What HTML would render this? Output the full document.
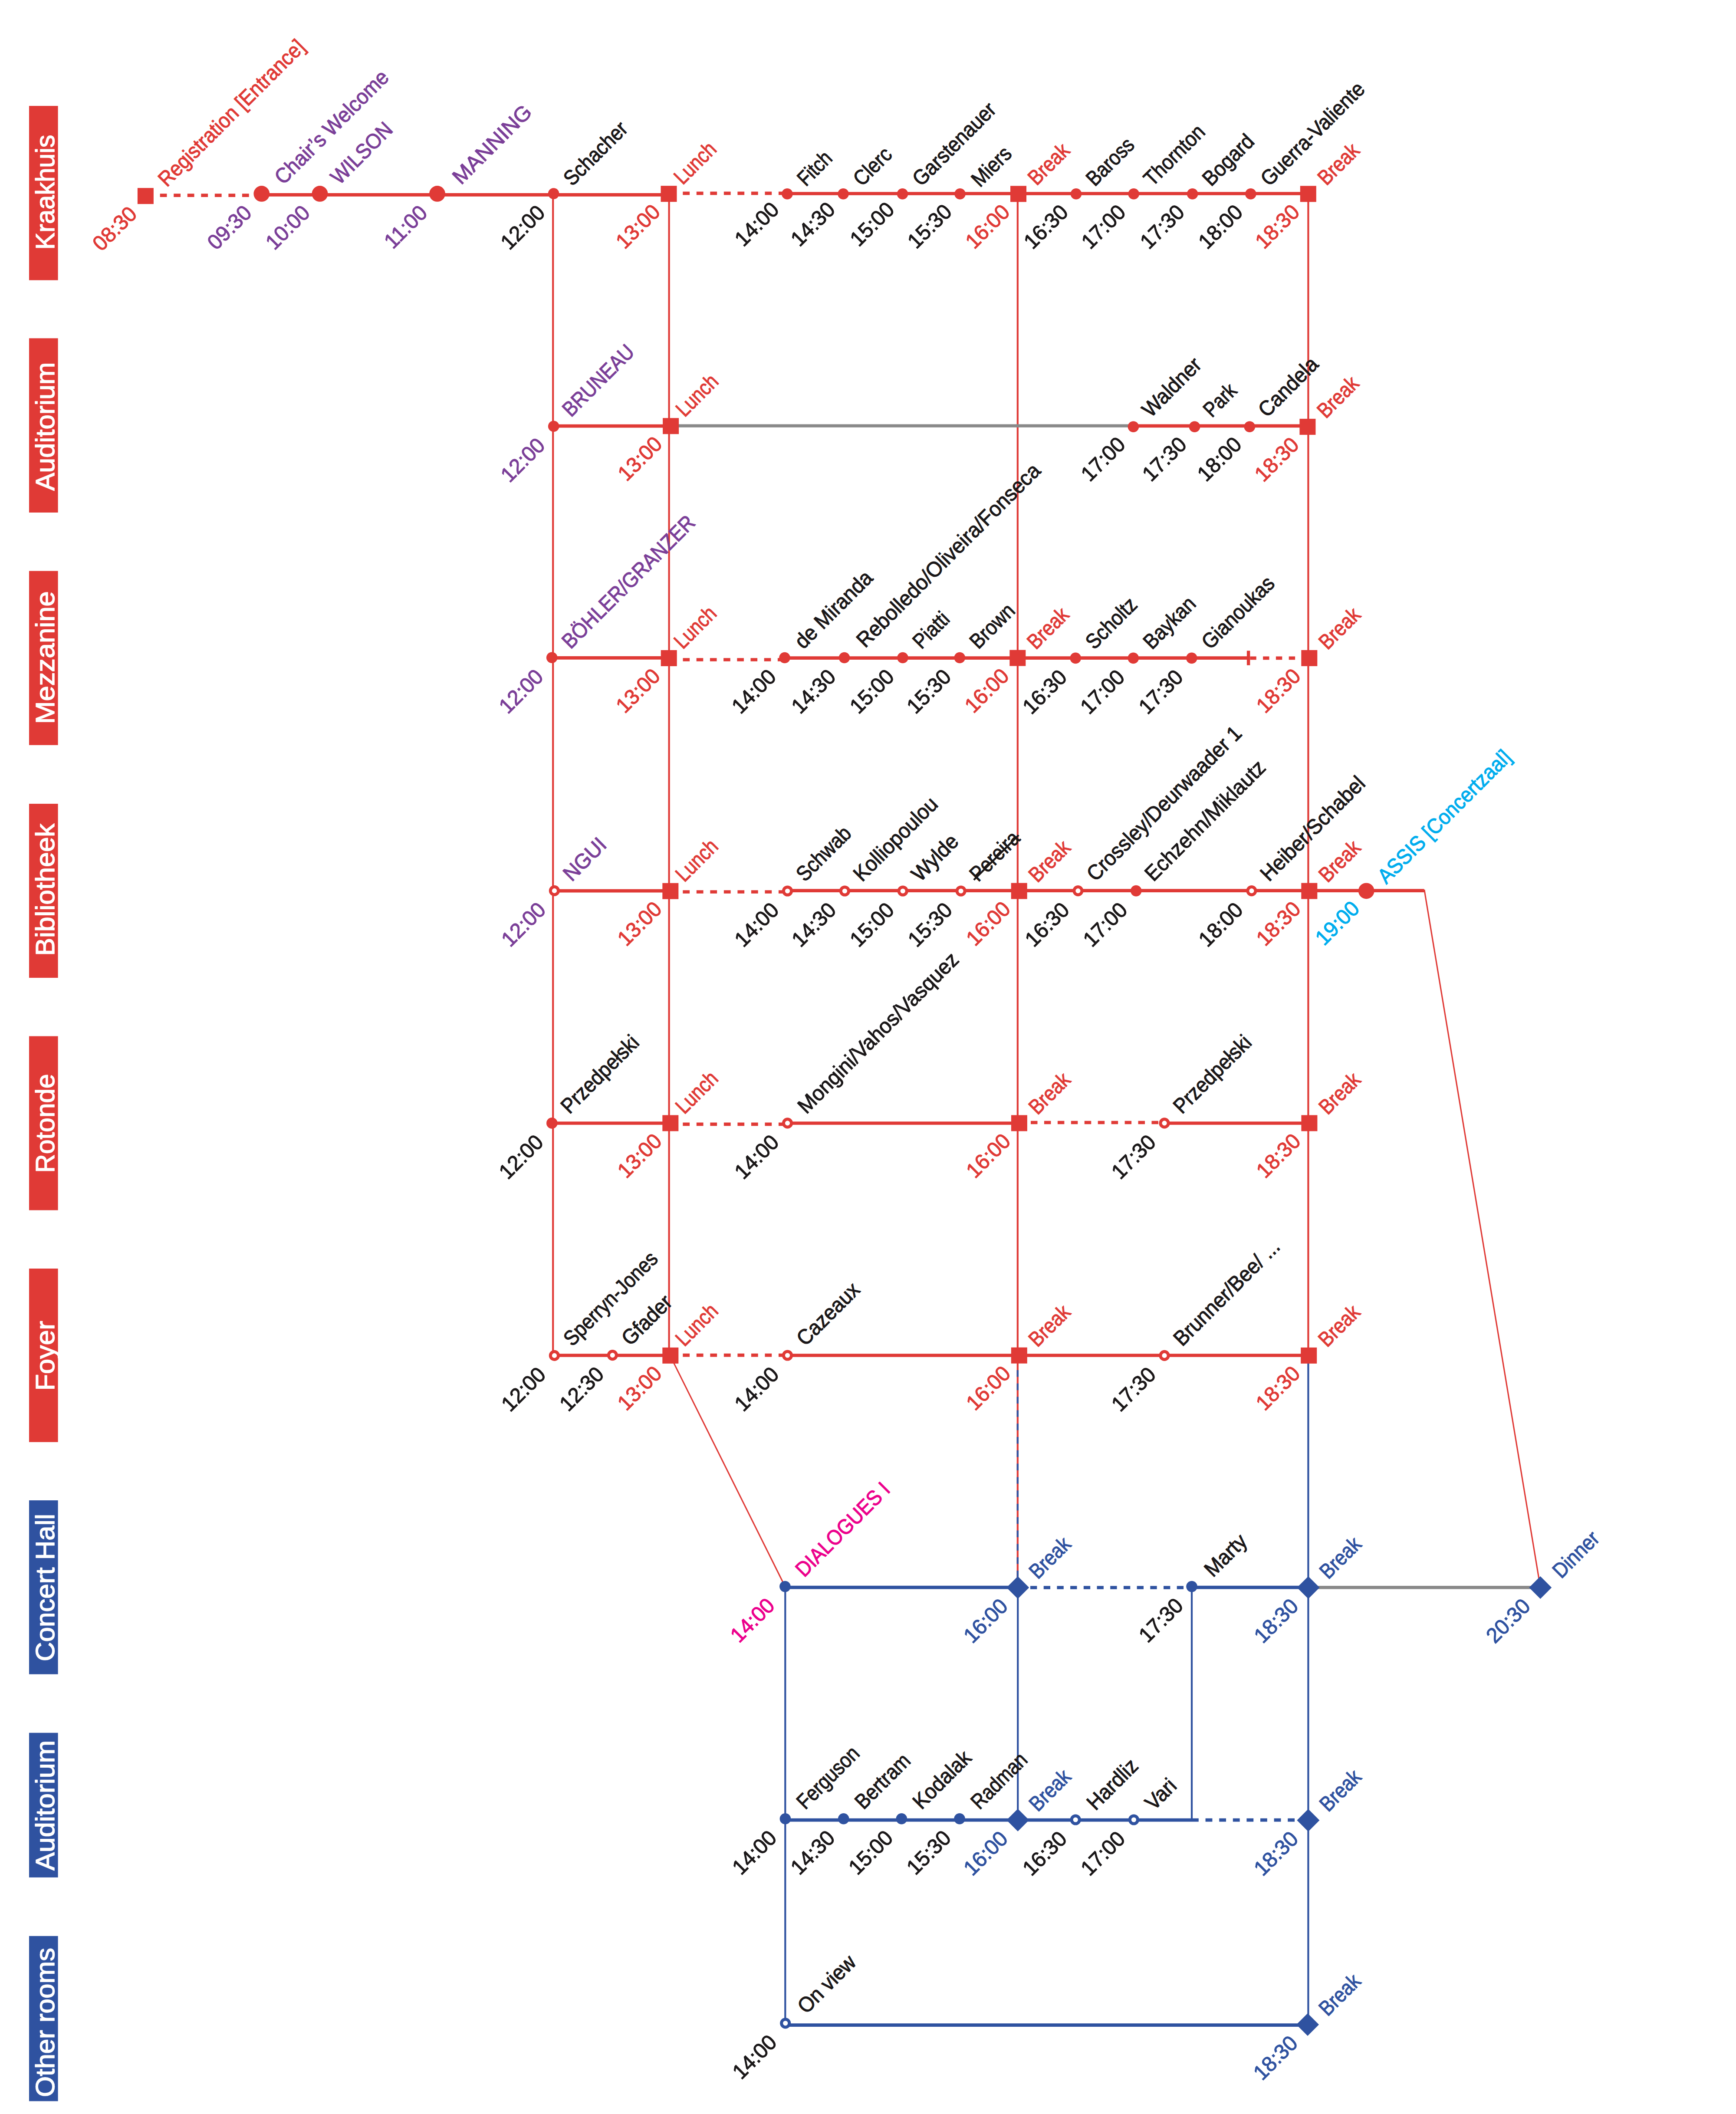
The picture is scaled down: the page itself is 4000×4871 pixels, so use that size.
<!DOCTYPE html>
<html lang="en">
<head>
<meta charset="utf-8">
<title>Conference schedule map</title>
<style>
html,body{margin:0;padding:0;background:#fff;}
body{width:4000px;height:4871px;overflow:hidden;}
svg{display:block;}
text{font-family:"Liberation Sans",sans-serif;font-size:49px;stroke-width:1.2px;stroke-linejoin:round;}
text.room{font-size:62px;stroke-width:1.5px;}
</style>
</head>
<body>
<svg width="4000" height="4871" viewBox="0 0 4000 4871">
<rect width="4000" height="4871" fill="#fff"/>
<rect x="67" y="244.0" width="66.6" height="401.6" fill="#E03A36"/>
<text class="room" transform="translate(125.3 443.0) rotate(-90)" text-anchor="middle" fill="#fff" stroke="#fff" textLength="265" lengthAdjust="spacingAndGlyphs">Kraakhuis</text>
<rect x="67" y="779.4" width="66.6" height="401.6" fill="#E03A36"/>
<text class="room" transform="translate(125.3 982.7) rotate(-90)" text-anchor="middle" fill="#fff" stroke="#fff" textLength="296" lengthAdjust="spacingAndGlyphs">Auditorium</text>
<rect x="67" y="1315.6" width="66.6" height="401.2" fill="#E03A36"/>
<text class="room" transform="translate(125.3 1515.2) rotate(-90)" text-anchor="middle" fill="#fff" stroke="#fff" textLength="306" lengthAdjust="spacingAndGlyphs">Mezzanine</text>
<rect x="67" y="1852.0" width="66.6" height="401.0" fill="#E03A36"/>
<text class="room" transform="translate(125.3 2050.0) rotate(-90)" text-anchor="middle" fill="#fff" stroke="#fff" textLength="305" lengthAdjust="spacingAndGlyphs">Bibliotheek</text>
<rect x="67" y="2387.5" width="66.6" height="401.0" fill="#E03A36"/>
<text class="room" transform="translate(125.3 2588.5) rotate(-90)" text-anchor="middle" fill="#fff" stroke="#fff" textLength="228" lengthAdjust="spacingAndGlyphs">Rotonde</text>
<rect x="67" y="2923.0" width="66.6" height="399.8" fill="#E03A36"/>
<text class="room" transform="translate(125.3 3123.9) rotate(-90)" text-anchor="middle" fill="#fff" stroke="#fff" textLength="161" lengthAdjust="spacingAndGlyphs">Foyer</text>
<rect x="67" y="3457.0" width="66.6" height="400.7" fill="#2F52A0"/>
<text class="room" transform="translate(125.3 3657.9) rotate(-90)" text-anchor="middle" fill="#fff" stroke="#fff" textLength="340" lengthAdjust="spacingAndGlyphs">Concert Hall</text>
<rect x="67" y="3992.7" width="66.6" height="333.2" fill="#2F52A0"/>
<text class="room" transform="translate(125.3 4160.0) rotate(-90)" text-anchor="middle" fill="#fff" stroke="#fff" textLength="300" lengthAdjust="spacingAndGlyphs">Auditorium</text>
<rect x="67" y="4460.9" width="66.6" height="380.5" fill="#2F52A0"/>
<text class="room" transform="translate(125.3 4660.1) rotate(-90)" text-anchor="middle" fill="#fff" stroke="#fff" textLength="344" lengthAdjust="spacingAndGlyphs">Other rooms</text>
<line x1="1274.2" y1="446.0" x2="1274.2" y2="3123.4" stroke="#E03A36" stroke-width="4.2"/>
<line x1="1541.6" y1="446.0" x2="1541.6" y2="3123.4" stroke="#E03A36" stroke-width="4.2"/>
<line x1="2344.8" y1="446.0" x2="2344.8" y2="3640.0" stroke="#E03A36" stroke-width="4.2"/>
<line x1="2344.8" y1="3141.6" x2="2344.8" y2="3640" stroke="#2F52A0" stroke-width="4.2" stroke-dasharray="15.4 15.4" stroke-dashoffset="-15.4"/>
<line x1="2345.2" y1="3658.0" x2="2345.2" y2="4193.7" stroke="#2F52A0" stroke-width="4.2"/>
<line x1="3014.4" y1="446.0" x2="3014.4" y2="3123.4" stroke="#E03A36" stroke-width="4.2"/>
<line x1="3014.4" y1="3123.4" x2="3014.4" y2="4665.0" stroke="#2F52A0" stroke-width="4.2"/>
<line x1="1809.3" y1="3655.6" x2="1809.3" y2="4662.0" stroke="#2F52A0" stroke-width="4.2"/>
<line x1="2746.0" y1="3655.6" x2="2746.0" y2="4195.5" stroke="#2F52A0" stroke-width="4.2"/>
<line x1="1544.0" y1="3123.4" x2="1808.6" y2="3655.0" stroke="#E03A36" stroke-width="3.1"/>
<line x1="3281.8" y1="2050.0" x2="3546.0" y2="3638.0" stroke="#E03A36" stroke-width="3.1"/>
<line x1="368.7" y1="450.2" x2="573.7" y2="450.2" stroke="#E03A36" stroke-width="7.7" stroke-dasharray="15.77 15.77"/>
<line x1="602.8" y1="448.8" x2="1541.0" y2="448.8" stroke="#E03A36" stroke-width="7.7"/>
<line x1="1573.3" y1="445.3" x2="1809.7" y2="445.3" stroke="#E03A36" stroke-width="7.7" stroke-dasharray="15.76 15.76"/>
<line x1="1813.9" y1="446.0" x2="3014.3" y2="446.0" stroke="#E03A36" stroke-width="7.7"/>
<rect x="316.9" y="433.1" width="37" height="37" fill="#E03A36"/>
<text transform="translate(384.4 432.6) rotate(-45) scale(0.912 1)" fill="#E03A36" stroke="#E03A36">Registration [Entrance]</text>
<text transform="translate(318.4 496.1) rotate(-45) scale(0.978 1)" text-anchor="end" fill="#E03A36" stroke="#E03A36">08:30</text>
<circle cx="602.8" cy="446.4" r="18.4" fill="#E03A36"/>
<text transform="translate(652.8 427.4) rotate(-45) scale(0.940 1)" fill="#7B3F98" stroke="#7B3F98">Chair’s Welcome</text>
<text transform="translate(582.8 493.4) rotate(-45) scale(0.978 1)" text-anchor="end" fill="#7B3F98" stroke="#7B3F98">09:30</text>
<circle cx="737.0" cy="446.4" r="18.4" fill="#E03A36"/>
<text transform="translate(782.0 427.4) rotate(-45) scale(0.921 1)" fill="#7B3F98" stroke="#7B3F98">WILSON</text>
<text transform="translate(717.0 493.4) rotate(-45) scale(0.978 1)" text-anchor="end" fill="#7B3F98" stroke="#7B3F98">10:00</text>
<circle cx="1007.5" cy="446.4" r="18.4" fill="#E03A36"/>
<text transform="translate(1062.5 427.4) rotate(-45) scale(1.015 1)" fill="#7B3F98" stroke="#7B3F98">MANNING</text>
<text transform="translate(987.5 493.4) rotate(-45) scale(0.978 1)" text-anchor="end" fill="#7B3F98" stroke="#7B3F98">11:00</text>
<circle cx="1275.6" cy="446.1" r="12.8" fill="#E03A36"/>
<text transform="translate(1318.6 430.6) rotate(-45) scale(0.893 1)" fill="#1A1718" stroke="#1A1718">Schacher</text>
<text transform="translate(1258.6 493.1) rotate(-45) scale(0.978 1)" text-anchor="end" fill="#1A1718" stroke="#1A1718">12:00</text>
<rect x="1522.5" y="428.1" width="37" height="37" fill="#E03A36"/>
<text transform="translate(1573.0 427.6) rotate(-45) scale(0.855 1)" fill="#E03A36" stroke="#E03A36">Lunch</text>
<text transform="translate(1524.0 491.1) rotate(-45) scale(0.978 1)" text-anchor="end" fill="#E03A36" stroke="#E03A36">13:00</text>
<circle cx="1813.9" cy="446.8" r="12.8" fill="#E03A36"/>
<text transform="translate(1856.9 431.3) rotate(-45) scale(0.846 1)" fill="#1A1718" stroke="#1A1718">Fitch</text>
<text transform="translate(1797.9 485.8) rotate(-45) scale(0.978 1)" text-anchor="end" fill="#1A1718" stroke="#1A1718">14:00</text>
<circle cx="1943.0" cy="446.8" r="12.8" fill="#E03A36"/>
<text transform="translate(1986.0 431.3) rotate(-45) scale(0.893 1)" fill="#1A1718" stroke="#1A1718">Clerc</text>
<text transform="translate(1927.0 485.8) rotate(-45) scale(0.978 1)" text-anchor="end" fill="#1A1718" stroke="#1A1718">14:30</text>
<circle cx="2079.5" cy="446.8" r="12.8" fill="#E03A36"/>
<text transform="translate(2122.5 431.3) rotate(-45) scale(0.912 1)" fill="#1A1718" stroke="#1A1718">Garstenauer</text>
<text transform="translate(2063.5 485.8) rotate(-45) scale(0.978 1)" text-anchor="end" fill="#1A1718" stroke="#1A1718">15:00</text>
<circle cx="2212.0" cy="446.8" r="12.8" fill="#E03A36"/>
<text transform="translate(2258.0 433.3) rotate(-45) scale(0.898 1)" fill="#1A1718" stroke="#1A1718">Miers</text>
<text transform="translate(2196.0 490.8) rotate(-45) scale(0.978 1)" text-anchor="end" fill="#1A1718" stroke="#1A1718">15:30</text>
<rect x="2328.0" y="428.3" width="37" height="37" fill="#E03A36"/>
<text transform="translate(2388.5 429.3) rotate(-45) scale(0.874 1)" fill="#E03A36" stroke="#E03A36">Break</text>
<text transform="translate(2329.5 491.3) rotate(-45) scale(0.978 1)" text-anchor="end" fill="#E03A36" stroke="#E03A36">16:00</text>
<circle cx="2479.5" cy="446.8" r="12.8" fill="#E03A36"/>
<text transform="translate(2522.5 431.3) rotate(-45) scale(0.874 1)" fill="#1A1718" stroke="#1A1718">Baross</text>
<text transform="translate(2464.0 491.8) rotate(-45) scale(0.978 1)" text-anchor="end" fill="#1A1718" stroke="#1A1718">16:30</text>
<circle cx="2612.2" cy="446.8" r="12.8" fill="#E03A36"/>
<text transform="translate(2655.2 431.3) rotate(-45) scale(0.896 1)" fill="#1A1718" stroke="#1A1718">Thornton</text>
<text transform="translate(2596.7 491.8) rotate(-45) scale(0.978 1)" text-anchor="end" fill="#1A1718" stroke="#1A1718">17:00</text>
<circle cx="2747.6" cy="446.8" r="12.8" fill="#E03A36"/>
<text transform="translate(2790.6 431.3) rotate(-45) scale(0.916 1)" fill="#1A1718" stroke="#1A1718">Bogard</text>
<text transform="translate(2732.1 491.8) rotate(-45) scale(0.978 1)" text-anchor="end" fill="#1A1718" stroke="#1A1718">17:30</text>
<circle cx="2881.8" cy="446.8" r="12.8" fill="#E03A36"/>
<text transform="translate(2924.8 431.3) rotate(-45) scale(0.921 1)" fill="#1A1718" stroke="#1A1718">Guerra-Valiente</text>
<text transform="translate(2866.3 491.8) rotate(-45) scale(0.978 1)" text-anchor="end" fill="#1A1718" stroke="#1A1718">18:00</text>
<rect x="2995.8" y="428.3" width="37" height="37" fill="#E03A36"/>
<text transform="translate(3056.3 429.3) rotate(-45) scale(0.874 1)" fill="#E03A36" stroke="#E03A36">Break</text>
<text transform="translate(2997.3 491.3) rotate(-45) scale(0.978 1)" text-anchor="end" fill="#E03A36" stroke="#E03A36">18:30</text>
<line x1="1275.7" y1="981.6" x2="1545.0" y2="981.6" stroke="#E03A36" stroke-width="7.7"/>
<line x1="1560.0" y1="981.2" x2="2611.4" y2="981.2" stroke="#898989" stroke-width="7.2"/>
<line x1="2611.4" y1="981.4" x2="3013.0" y2="981.4" stroke="#E03A36" stroke-width="7.7"/>
<circle cx="1275.7" cy="982.3" r="12.8" fill="#E03A36"/>
<text transform="translate(1315.7 962.8) rotate(-45) scale(0.879 1)" fill="#7B3F98" stroke="#7B3F98">BRUNEAU</text>
<text transform="translate(1258.7 1029.3) rotate(-45) scale(0.978 1)" text-anchor="end" fill="#7B3F98" stroke="#7B3F98">12:00</text>
<rect x="1527.1" y="963.2" width="37" height="37" fill="#E03A36"/>
<text transform="translate(1577.6 962.7) rotate(-45) scale(0.855 1)" fill="#E03A36" stroke="#E03A36">Lunch</text>
<text transform="translate(1528.6 1026.2) rotate(-45) scale(0.978 1)" text-anchor="end" fill="#E03A36" stroke="#E03A36">13:00</text>
<circle cx="2611.4" cy="983.2" r="12.8" fill="#E03A36"/>
<text transform="translate(2651.4 963.7) rotate(-45) scale(0.940 1)" fill="#1A1718" stroke="#1A1718">Waldner</text>
<text transform="translate(2595.9 1027.2) rotate(-45) scale(0.978 1)" text-anchor="end" fill="#1A1718" stroke="#1A1718">17:00</text>
<circle cx="2752.5" cy="983.2" r="12.8" fill="#E03A36"/>
<text transform="translate(2792.5 963.7) rotate(-45) scale(0.846 1)" fill="#1A1718" stroke="#1A1718">Park</text>
<text transform="translate(2737.0 1027.2) rotate(-45) scale(0.978 1)" text-anchor="end" fill="#1A1718" stroke="#1A1718">17:30</text>
<circle cx="2879.3" cy="983.2" r="12.8" fill="#E03A36"/>
<text transform="translate(2919.3 963.7) rotate(-45) scale(0.940 1)" fill="#1A1718" stroke="#1A1718">Candela</text>
<text transform="translate(2863.8 1027.2) rotate(-45) scale(0.978 1)" text-anchor="end" fill="#1A1718" stroke="#1A1718">18:00</text>
<rect x="2994.4" y="964.9" width="37" height="37" fill="#E03A36"/>
<text transform="translate(3054.9 965.9) rotate(-45) scale(0.874 1)" fill="#E03A36" stroke="#E03A36">Break</text>
<text transform="translate(2995.9 1027.9) rotate(-45) scale(0.978 1)" text-anchor="end" fill="#E03A36" stroke="#E03A36">18:30</text>
<line x1="1271.7" y1="1515.8" x2="1541.0" y2="1515.8" stroke="#E03A36" stroke-width="7.7"/>
<line x1="1573.5" y1="1520.0" x2="1807.5" y2="1520.0" stroke="#E03A36" stroke-width="7.7" stroke-dasharray="15.60 15.60"/>
<line x1="1808.0" y1="1516.2" x2="2876.6" y2="1516.2" stroke="#E03A36" stroke-width="7.7"/>
<line x1="2876.6" y1="1499.4" x2="2876.6" y2="1532.8" stroke="#E03A36" stroke-width="7.4"/>
<line x1="2880.3" y1="1516.3" x2="3000" y2="1516.3" stroke="#E03A36" stroke-width="7.7" stroke-dasharray="14.4 15.4"/>
<circle cx="1271.7" cy="1515.3" r="12.8" fill="#E03A36"/>
<text transform="translate(1314.7 1497.3) rotate(-45) scale(0.902 1)" fill="#7B3F98" stroke="#7B3F98">BÖHLER/GRANZER</text>
<text transform="translate(1254.7 1562.3) rotate(-45) scale(0.978 1)" text-anchor="end" fill="#7B3F98" stroke="#7B3F98">12:00</text>
<rect x="1522.7" y="1498.0" width="37" height="37" fill="#E03A36"/>
<text transform="translate(1573.2 1497.5) rotate(-45) scale(0.855 1)" fill="#E03A36" stroke="#E03A36">Lunch</text>
<text transform="translate(1524.2 1561.0) rotate(-45) scale(0.978 1)" text-anchor="end" fill="#E03A36" stroke="#E03A36">13:00</text>
<circle cx="1808.0" cy="1515.5" r="12.8" fill="#E03A36"/>
<text transform="translate(1851.0 1497.5) rotate(-45) scale(0.940 1)" fill="#1A1718" stroke="#1A1718">de Miranda</text>
<text transform="translate(1791.0 1562.5) rotate(-45) scale(0.978 1)" text-anchor="end" fill="#1A1718" stroke="#1A1718">14:00</text>
<circle cx="1945.5" cy="1515.5" r="12.8" fill="#E03A36"/>
<text transform="translate(1993.5 1494.5) rotate(-45) scale(0.956 1)" fill="#1A1718" stroke="#1A1718">Rebolledo/Oliveira/Fonseca</text>
<text transform="translate(1928.5 1562.5) rotate(-45) scale(0.978 1)" text-anchor="end" fill="#1A1718" stroke="#1A1718">14:30</text>
<circle cx="2080.0" cy="1515.5" r="12.8" fill="#E03A36"/>
<text transform="translate(2123.0 1497.5) rotate(-45) scale(0.884 1)" fill="#1A1718" stroke="#1A1718">Piatti</text>
<text transform="translate(2063.0 1562.5) rotate(-45) scale(0.978 1)" text-anchor="end" fill="#1A1718" stroke="#1A1718">15:00</text>
<circle cx="2211.3" cy="1515.5" r="12.8" fill="#E03A36"/>
<text transform="translate(2254.3 1497.5) rotate(-45) scale(0.888 1)" fill="#1A1718" stroke="#1A1718">Brown</text>
<text transform="translate(2194.3 1562.5) rotate(-45) scale(0.978 1)" text-anchor="end" fill="#1A1718" stroke="#1A1718">15:30</text>
<rect x="2326.3" y="1497.6" width="37" height="37" fill="#E03A36"/>
<text transform="translate(2386.8 1498.6) rotate(-45) scale(0.874 1)" fill="#E03A36" stroke="#E03A36">Break</text>
<text transform="translate(2327.8 1560.6) rotate(-45) scale(0.978 1)" text-anchor="end" fill="#E03A36" stroke="#E03A36">16:00</text>
<circle cx="2478.2" cy="1516.4" r="12.8" fill="#E03A36"/>
<text transform="translate(2521.2 1498.4) rotate(-45) scale(0.898 1)" fill="#1A1718" stroke="#1A1718">Scholtz</text>
<text transform="translate(2461.2 1563.4) rotate(-45) scale(0.978 1)" text-anchor="end" fill="#1A1718" stroke="#1A1718">16:30</text>
<circle cx="2611.3" cy="1516.4" r="12.8" fill="#E03A36"/>
<text transform="translate(2654.3 1498.4) rotate(-45) scale(0.900 1)" fill="#1A1718" stroke="#1A1718">Baykan</text>
<text transform="translate(2594.3 1563.4) rotate(-45) scale(0.978 1)" text-anchor="end" fill="#1A1718" stroke="#1A1718">17:00</text>
<circle cx="2745.8" cy="1516.4" r="12.8" fill="#E03A36"/>
<text transform="translate(2788.8 1498.4) rotate(-45) scale(0.912 1)" fill="#1A1718" stroke="#1A1718">Gianoukas</text>
<text transform="translate(2728.8 1563.4) rotate(-45) scale(0.978 1)" text-anchor="end" fill="#1A1718" stroke="#1A1718">17:30</text>
<rect x="2998.3" y="1497.9" width="37" height="37" fill="#E03A36"/>
<text transform="translate(3058.8 1498.9) rotate(-45) scale(0.874 1)" fill="#E03A36" stroke="#E03A36">Break</text>
<text transform="translate(2999.8 1560.9) rotate(-45) scale(0.978 1)" text-anchor="end" fill="#E03A36" stroke="#E03A36">18:30</text>
<line x1="1277.4" y1="2052.6" x2="1544.8" y2="2052.6" stroke="#E03A36" stroke-width="7.7"/>
<line x1="1573.3" y1="2055.0" x2="1809.7" y2="2055.0" stroke="#E03A36" stroke-width="7.7" stroke-dasharray="15.76 15.76"/>
<line x1="1814.5" y1="2052.2" x2="3281.4" y2="2052.2" stroke="#E03A36" stroke-width="7.7"/>
<circle cx="1277.4" cy="2052.4" r="9.1" fill="#fff" stroke="#E03A36" stroke-width="7"/>
<text transform="translate(1317.4 2032.9) rotate(-45) scale(0.959 1)" fill="#7B3F98" stroke="#7B3F98">NGUI</text>
<text transform="translate(1260.4 2099.4) rotate(-45) scale(0.978 1)" text-anchor="end" fill="#7B3F98" stroke="#7B3F98">12:00</text>
<rect x="1526.3" y="2034.7" width="37" height="37" fill="#E03A36"/>
<text transform="translate(1576.8 2034.2) rotate(-45) scale(0.855 1)" fill="#E03A36" stroke="#E03A36">Lunch</text>
<text transform="translate(1527.8 2097.7) rotate(-45) scale(0.978 1)" text-anchor="end" fill="#E03A36" stroke="#E03A36">13:00</text>
<circle cx="1814.5" cy="2053.0" r="9.1" fill="#fff" stroke="#E03A36" stroke-width="7"/>
<text transform="translate(1854.5 2033.5) rotate(-45) scale(0.893 1)" fill="#1A1718" stroke="#1A1718">Schwab</text>
<text transform="translate(1797.5 2100.0) rotate(-45) scale(0.978 1)" text-anchor="end" fill="#1A1718" stroke="#1A1718">14:00</text>
<circle cx="1946.4" cy="2053.0" r="9.1" fill="#fff" stroke="#E03A36" stroke-width="7"/>
<text transform="translate(1986.4 2033.5) rotate(-45) scale(0.940 1)" fill="#1A1718" stroke="#1A1718">Kolliopoulou</text>
<text transform="translate(1929.4 2100.0) rotate(-45) scale(0.978 1)" text-anchor="end" fill="#1A1718" stroke="#1A1718">14:30</text>
<circle cx="2080.2" cy="2053.0" r="9.1" fill="#fff" stroke="#E03A36" stroke-width="7"/>
<text transform="translate(2120.2 2033.5) rotate(-45) scale(0.954 1)" fill="#1A1718" stroke="#1A1718">Wylde</text>
<text transform="translate(2063.2 2100.0) rotate(-45) scale(0.978 1)" text-anchor="end" fill="#1A1718" stroke="#1A1718">15:00</text>
<circle cx="2214.1" cy="2053.0" r="9.1" fill="#fff" stroke="#E03A36" stroke-width="7"/>
<text transform="translate(2254.1 2033.5) rotate(-45) scale(0.884 1)" fill="#1A1718" stroke="#1A1718" id="pereira">Pereira</text>
<line transform="translate(2254.1 2033.5) rotate(-45)" x1="-3" y1="-11.5" x2="143" y2="-11.5" stroke="#1A1718" stroke-width="4.4"/>
<text transform="translate(2197.1 2100.0) rotate(-45) scale(0.978 1)" text-anchor="end" fill="#1A1718" stroke="#1A1718">15:30</text>
<rect x="2329.7" y="2034.5" width="37" height="37" fill="#E03A36"/>
<text transform="translate(2390.2 2035.5) rotate(-45) scale(0.874 1)" fill="#E03A36" stroke="#E03A36">Break</text>
<text transform="translate(2331.2 2097.5) rotate(-45) scale(0.978 1)" text-anchor="end" fill="#E03A36" stroke="#E03A36">16:00</text>
<circle cx="2483.9" cy="2052.6" r="9.1" fill="#fff" stroke="#E03A36" stroke-width="7"/>
<text transform="translate(2523.9 2033.1) rotate(-45) scale(0.940 1)" fill="#1A1718" stroke="#1A1718">Crossley/Deurwaader 1</text>
<text transform="translate(2466.9 2099.6) rotate(-45) scale(0.978 1)" text-anchor="end" fill="#1A1718" stroke="#1A1718">16:30</text>
<circle cx="2617.7" cy="2052.6" r="12.8" fill="#E03A36"/>
<text transform="translate(2657.7 2033.1) rotate(-45) scale(0.963 1)" fill="#1A1718" stroke="#1A1718">Echzehn/Miklautz</text>
<text transform="translate(2600.7 2099.6) rotate(-45) scale(0.978 1)" text-anchor="end" fill="#1A1718" stroke="#1A1718">17:00</text>
<circle cx="2883.9" cy="2052.6" r="9.1" fill="#fff" stroke="#E03A36" stroke-width="7"/>
<text transform="translate(2923.9 2033.1) rotate(-45) scale(0.949 1)" fill="#1A1718" stroke="#1A1718">Heiber/Schabel</text>
<text transform="translate(2866.9 2099.6) rotate(-45) scale(0.978 1)" text-anchor="end" fill="#1A1718" stroke="#1A1718">18:00</text>
<rect x="2998.3" y="2034.5" width="37" height="37" fill="#E03A36"/>
<text transform="translate(3058.8 2035.5) rotate(-45) scale(0.874 1)" fill="#E03A36" stroke="#E03A36">Break</text>
<text transform="translate(2999.8 2097.5) rotate(-45) scale(0.978 1)" text-anchor="end" fill="#E03A36" stroke="#E03A36">18:30</text>
<circle cx="3148.2" cy="2052.8" r="18.4" fill="#E03A36"/>
<text transform="translate(3194.2 2038.8) rotate(-45) scale(0.921 1)" fill="#00ADEE" stroke="#00ADEE">ASSIS [Concertzaal]</text>
<text transform="translate(3135.7 2096.3) rotate(-45) scale(0.978 1)" text-anchor="end" fill="#00ADEE" stroke="#00ADEE">19:00</text>
<line x1="1271.8" y1="2588.0" x2="1544.8" y2="2588.0" stroke="#E03A36" stroke-width="7.7"/>
<line x1="1573.3" y1="2590.3" x2="1809.7" y2="2590.3" stroke="#E03A36" stroke-width="7.7" stroke-dasharray="15.76 15.76"/>
<line x1="1814.5" y1="2588.0" x2="2348.4" y2="2588.0" stroke="#E03A36" stroke-width="7.7"/>
<line x1="2375.0" y1="2586.5" x2="2669.0" y2="2586.5" stroke="#E03A36" stroke-width="7.7" stroke-dasharray="15.47 15.47"/>
<line x1="2683.0" y1="2588.0" x2="3016.9" y2="2588.0" stroke="#E03A36" stroke-width="7.7"/>
<circle cx="1271.8" cy="2587.9" r="12.8" fill="#E03A36"/>
<text transform="translate(1312.3 2568.4) rotate(-45) scale(0.912 1)" fill="#1A1718" stroke="#1A1718">Przedpełski</text>
<text transform="translate(1254.8 2634.9) rotate(-45) scale(0.978 1)" text-anchor="end" fill="#1A1718" stroke="#1A1718">12:00</text>
<rect x="1526.3" y="2569.4" width="37" height="37" fill="#E03A36"/>
<text transform="translate(1576.8 2568.9) rotate(-45) scale(0.855 1)" fill="#E03A36" stroke="#E03A36">Lunch</text>
<text transform="translate(1527.8 2632.4) rotate(-45) scale(0.978 1)" text-anchor="end" fill="#E03A36" stroke="#E03A36">13:00</text>
<circle cx="1814.5" cy="2587.9" r="9.1" fill="#fff" stroke="#E03A36" stroke-width="7"/>
<text transform="translate(1858.0 2568.4) rotate(-45) scale(0.961 1)" fill="#1A1718" stroke="#1A1718">Mongini/Vahos/Vasquez</text>
<text transform="translate(1797.5 2634.9) rotate(-45) scale(0.978 1)" text-anchor="end" fill="#1A1718" stroke="#1A1718">14:00</text>
<rect x="2329.9" y="2569.4" width="37" height="37" fill="#E03A36"/>
<text transform="translate(2390.4 2570.4) rotate(-45) scale(0.874 1)" fill="#E03A36" stroke="#E03A36">Break</text>
<text transform="translate(2331.4 2632.4) rotate(-45) scale(0.978 1)" text-anchor="end" fill="#E03A36" stroke="#E03A36">16:00</text>
<circle cx="2683.0" cy="2587.9" r="9.1" fill="#fff" stroke="#E03A36" stroke-width="7"/>
<text transform="translate(2723.5 2568.4) rotate(-45) scale(0.912 1)" fill="#1A1718" stroke="#1A1718">Przedpełski</text>
<text transform="translate(2666.0 2634.9) rotate(-45) scale(0.978 1)" text-anchor="end" fill="#1A1718" stroke="#1A1718">17:30</text>
<rect x="2998.4" y="2569.4" width="37" height="37" fill="#E03A36"/>
<text transform="translate(3058.9 2570.4) rotate(-45) scale(0.874 1)" fill="#E03A36" stroke="#E03A36">Break</text>
<text transform="translate(2999.9 2632.4) rotate(-45) scale(0.978 1)" text-anchor="end" fill="#E03A36" stroke="#E03A36">18:30</text>
<line x1="1277.4" y1="3123.0" x2="1544.8" y2="3123.0" stroke="#E03A36" stroke-width="7.7"/>
<line x1="1573.3" y1="3122.6" x2="1809.7" y2="3122.6" stroke="#E03A36" stroke-width="7.7" stroke-dasharray="15.76 15.76"/>
<line x1="1814.5" y1="3123.0" x2="3015.7" y2="3123.0" stroke="#E03A36" stroke-width="7.7"/>
<circle cx="1277.4" cy="3123.4" r="9.1" fill="#fff" stroke="#E03A36" stroke-width="7"/>
<text transform="translate(1318.4 3103.9) rotate(-45) scale(0.889 1)" fill="#1A1718" stroke="#1A1718">Sperryn-Jones</text>
<text transform="translate(1260.4 3170.4) rotate(-45) scale(0.978 1)" text-anchor="end" fill="#1A1718" stroke="#1A1718">12:00</text>
<circle cx="1411.3" cy="3122.6" r="9.1" fill="#fff" stroke="#E03A36" stroke-width="7"/>
<text transform="translate(1452.3 3103.1) rotate(-45) scale(0.940 1)" fill="#1A1718" stroke="#1A1718">Gfader</text>
<text transform="translate(1394.3 3169.6) rotate(-45) scale(0.978 1)" text-anchor="end" fill="#1A1718" stroke="#1A1718">12:30</text>
<rect x="1526.3" y="3104.9" width="37" height="37" fill="#E03A36"/>
<text transform="translate(1576.8 3104.4) rotate(-45) scale(0.855 1)" fill="#E03A36" stroke="#E03A36">Lunch</text>
<text transform="translate(1527.8 3167.9) rotate(-45) scale(0.978 1)" text-anchor="end" fill="#E03A36" stroke="#E03A36">13:00</text>
<circle cx="1814.5" cy="3123.0" r="9.1" fill="#fff" stroke="#E03A36" stroke-width="7"/>
<text transform="translate(1855.5 3103.5) rotate(-45) scale(0.940 1)" fill="#1A1718" stroke="#1A1718">Cazeaux</text>
<text transform="translate(1797.5 3170.0) rotate(-45) scale(0.978 1)" text-anchor="end" fill="#1A1718" stroke="#1A1718">14:00</text>
<rect x="2329.8" y="3104.7" width="37" height="37" fill="#E03A36"/>
<text transform="translate(2390.3 3105.7) rotate(-45) scale(0.874 1)" fill="#E03A36" stroke="#E03A36">Break</text>
<text transform="translate(2331.3 3167.7) rotate(-45) scale(0.978 1)" text-anchor="end" fill="#E03A36" stroke="#E03A36">16:00</text>
<circle cx="2683.0" cy="3123.4" r="9.1" fill="#fff" stroke="#E03A36" stroke-width="7"/>
<text transform="translate(2724.0 3103.9) rotate(-45) scale(0.940 1)" fill="#1A1718" stroke="#1A1718">Brunner/Bee/ ...</text>
<text transform="translate(2666.0 3170.4) rotate(-45) scale(0.978 1)" text-anchor="end" fill="#1A1718" stroke="#1A1718">17:30</text>
<rect x="2997.2" y="3104.9" width="37" height="37" fill="#E03A36"/>
<text transform="translate(3057.7 3105.9) rotate(-45) scale(0.874 1)" fill="#E03A36" stroke="#E03A36">Break</text>
<text transform="translate(2998.7 3167.9) rotate(-45) scale(0.978 1)" text-anchor="end" fill="#E03A36" stroke="#E03A36">18:30</text>
<line x1="1808.9" y1="3657.6" x2="2345.2" y2="3657.6" stroke="#2F52A0" stroke-width="7.7"/>
<line x1="2374.0" y1="3658.0" x2="2727.0" y2="3658.0" stroke="#2F52A0" stroke-width="7.7" stroke-dasharray="15.35 15.35"/>
<line x1="2746.0" y1="3657.6" x2="3014.5" y2="3657.6" stroke="#2F52A0" stroke-width="7.7"/>
<line x1="3030.0" y1="3657.7" x2="3549.2" y2="3657.7" stroke="#898989" stroke-width="7.4"/>
<circle cx="1808.9" cy="3655.6" r="12.8" fill="#2F52A0"/>
<text transform="translate(1852.9 3636.1) rotate(-45) scale(0.907 1)" fill="#EC008C" stroke="#EC008C">DIALOGUES I</text>
<text transform="translate(1787.9 3702.6) rotate(-45) scale(0.978 1)" text-anchor="end" fill="#EC008C" stroke="#EC008C">14:00</text>
<path d="M2345.2 3632.0L2371.2 3658.0L2345.2 3684.0L2319.2 3658.0Z" fill="#2F52A0"/>
<text transform="translate(2391.2 3640.5) rotate(-45) scale(0.874 1)" fill="#2F52A0" stroke="#2F52A0">Break</text>
<text transform="translate(2325.2 3704.0) rotate(-45) scale(0.978 1)" text-anchor="end" fill="#2F52A0" stroke="#2F52A0">16:00</text>
<circle cx="2746.0" cy="3655.6" r="12.8" fill="#2F52A0"/>
<text transform="translate(2795.0 3636.1) rotate(-45) scale(0.940 1)" fill="#1A1718" stroke="#1A1718">Marty</text>
<text transform="translate(2729.0 3702.6) rotate(-45) scale(0.978 1)" text-anchor="end" fill="#1A1718" stroke="#1A1718">17:30</text>
<path d="M3014.5 3632.0L3040.5 3658.0L3014.5 3684.0L2988.5 3658.0Z" fill="#2F52A0"/>
<text transform="translate(3060.5 3640.5) rotate(-45) scale(0.874 1)" fill="#2F52A0" stroke="#2F52A0">Break</text>
<text transform="translate(2994.5 3704.0) rotate(-45) scale(0.978 1)" text-anchor="end" fill="#2F52A0" stroke="#2F52A0">18:30</text>
<path d="M3549.2 3632.0L3575.2 3658.0L3549.2 3684.0L3523.2 3658.0Z" fill="#2F52A0"/>
<text transform="translate(3597.2 3639.0) rotate(-45) scale(0.893 1)" fill="#2F52A0" stroke="#2F52A0">Dinner</text>
<text transform="translate(3529.2 3704.0) rotate(-45) scale(0.978 1)" text-anchor="end" fill="#2F52A0" stroke="#2F52A0">20:30</text>
<line x1="1809.4" y1="4193.6" x2="2746.0" y2="4193.6" stroke="#2F52A0" stroke-width="7.7"/>
<line x1="2746.0" y1="4193.6" x2="2983.0" y2="4193.6" stroke="#2F52A0" stroke-width="7.7" stroke-dasharray="15.80 15.80"/>
<circle cx="1809.4" cy="4190.8" r="12.8" fill="#2F52A0"/>
<text transform="translate(1855.4 4171.3) rotate(-45) scale(0.874 1)" fill="#1A1718" stroke="#1A1718">Ferguson</text>
<text transform="translate(1792.4 4237.8) rotate(-45) scale(0.978 1)" text-anchor="end" fill="#1A1718" stroke="#1A1718">14:00</text>
<circle cx="1943.7" cy="4190.8" r="12.8" fill="#2F52A0"/>
<text transform="translate(1989.7 4171.3) rotate(-45) scale(0.902 1)" fill="#1A1718" stroke="#1A1718">Bertram</text>
<text transform="translate(1926.7 4237.8) rotate(-45) scale(0.978 1)" text-anchor="end" fill="#1A1718" stroke="#1A1718">14:30</text>
<circle cx="2077.3" cy="4190.8" r="12.8" fill="#2F52A0"/>
<text transform="translate(2123.3 4171.3) rotate(-45) scale(0.940 1)" fill="#1A1718" stroke="#1A1718">Kodalak</text>
<text transform="translate(2060.3 4237.8) rotate(-45) scale(0.978 1)" text-anchor="end" fill="#1A1718" stroke="#1A1718">15:00</text>
<circle cx="2211.0" cy="4190.8" r="12.8" fill="#2F52A0"/>
<text transform="translate(2257.0 4171.3) rotate(-45) scale(0.865 1)" fill="#1A1718" stroke="#1A1718">Radman</text>
<text transform="translate(2194.0 4237.8) rotate(-45) scale(0.978 1)" text-anchor="end" fill="#1A1718" stroke="#1A1718">15:30</text>
<path d="M2345.2 4167.7L2371.2 4193.7L2345.2 4219.7L2319.2 4193.7Z" fill="#2F52A0"/>
<text transform="translate(2391.2 4176.2) rotate(-45) scale(0.874 1)" fill="#2F52A0" stroke="#2F52A0">Break</text>
<text transform="translate(2325.2 4239.7) rotate(-45) scale(0.978 1)" text-anchor="end" fill="#2F52A0" stroke="#2F52A0">16:00</text>
<circle cx="2478.2" cy="4193.0" r="9.1" fill="#fff" stroke="#2F52A0" stroke-width="7"/>
<text transform="translate(2524.2 4173.5) rotate(-45) scale(0.940 1)" fill="#1A1718" stroke="#1A1718">Hardliz</text>
<text transform="translate(2461.2 4240.0) rotate(-45) scale(0.978 1)" text-anchor="end" fill="#1A1718" stroke="#1A1718">16:30</text>
<circle cx="2612.4" cy="4193.0" r="9.1" fill="#fff" stroke="#2F52A0" stroke-width="7"/>
<text transform="translate(2658.4 4173.5) rotate(-45) scale(0.940 1)" fill="#1A1718" stroke="#1A1718">Vari</text>
<text transform="translate(2595.4 4240.0) rotate(-45) scale(0.978 1)" text-anchor="end" fill="#1A1718" stroke="#1A1718">17:00</text>
<path d="M3014.4 4168.2L3040.4 4194.2L3014.4 4220.2L2988.4 4194.2Z" fill="#2F52A0"/>
<text transform="translate(3060.4 4176.7) rotate(-45) scale(0.874 1)" fill="#2F52A0" stroke="#2F52A0">Break</text>
<text transform="translate(2994.4 4240.2) rotate(-45) scale(0.978 1)" text-anchor="end" fill="#2F52A0" stroke="#2F52A0">18:30</text>
<line x1="1809.7" y1="4666.2" x2="3013.0" y2="4666.2" stroke="#2F52A0" stroke-width="7.7"/>
<circle cx="1809.7" cy="4661.8" r="9.1" fill="#fff" stroke="#2F52A0" stroke-width="7"/>
<text transform="translate(1857.7 4642.3) rotate(-45) scale(0.940 1)" fill="#1A1718" stroke="#1A1718">On view</text>
<text transform="translate(1792.7 4708.8) rotate(-45) scale(0.978 1)" text-anchor="end" fill="#1A1718" stroke="#1A1718">14:00</text>
<path d="M3013.0 4639.0L3039.0 4665.0L3013.0 4691.0L2987.0 4665.0Z" fill="#2F52A0"/>
<text transform="translate(3059.0 4647.5) rotate(-45) scale(0.874 1)" fill="#2F52A0" stroke="#2F52A0">Break</text>
<text transform="translate(2993.0 4711.0) rotate(-45) scale(0.978 1)" text-anchor="end" fill="#2F52A0" stroke="#2F52A0">18:30</text>
</svg>
</body>
</html>
